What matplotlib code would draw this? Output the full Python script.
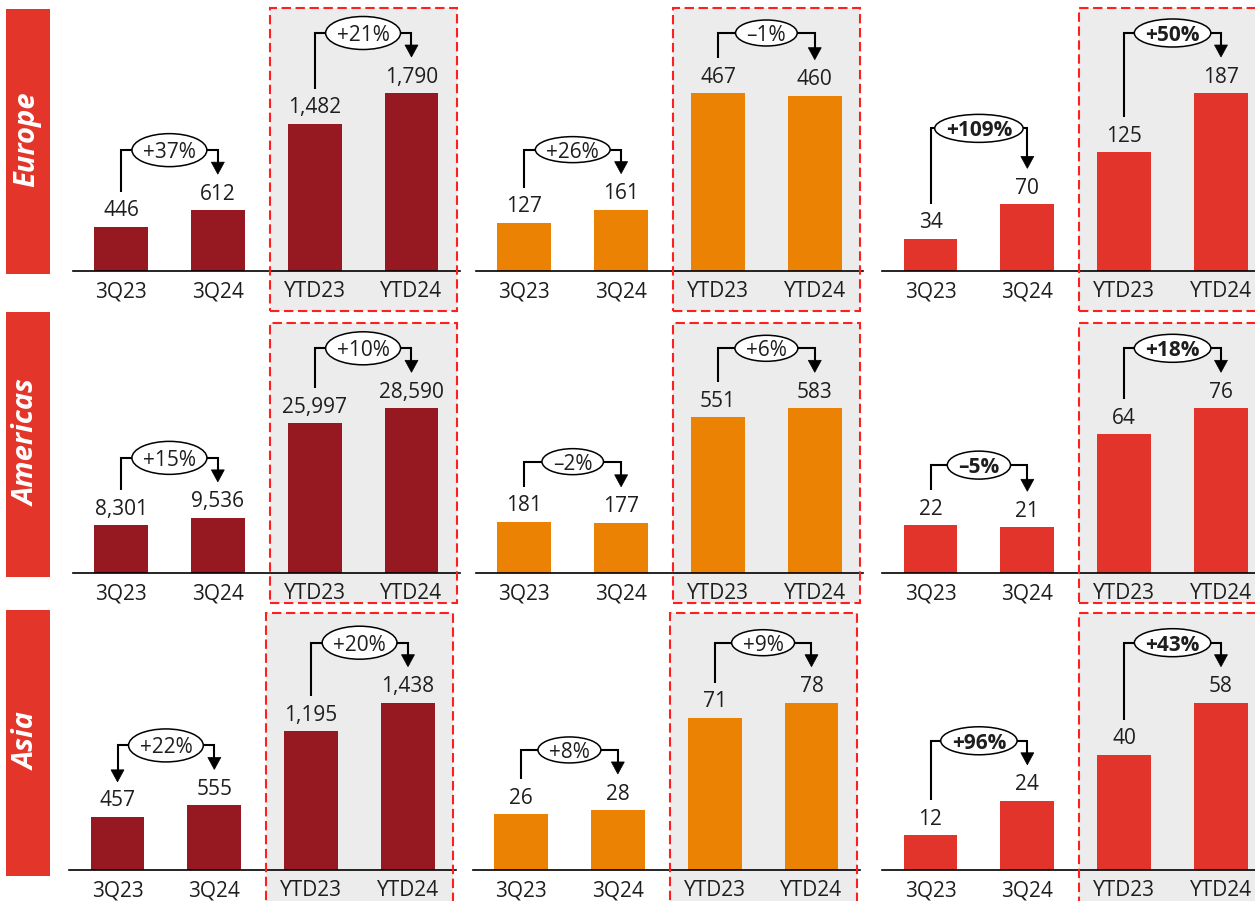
import matplotlib
matplotlib.use("Agg")
import matplotlib.pyplot as plt
import matplotlib.transforms as mtransforms
from matplotlib import font_manager as fm
from matplotlib.patches import Rectangle, Ellipse, Polygon
from matplotlib.lines import Line2D

# ---------------------------------------------------------------- data
regions = ["Europe", "Americas", "Asia"]
periods = ["3Q23", "3Q24", "YTD23", "YTD24"]

# first metric (dark red)
metric1_europe = [446, 612, 1482, 1790]
metric1_americas = [8301, 9536, 25997, 28590]
metric1_asia = [457, 555, 1195, 1438]

# second metric (orange)
metric2_europe = [127, 161, 467, 460]
metric2_americas = [181, 177, 551, 583]
metric2_asia = [26, 28, 71, 78]

# third metric (red)
metric3_europe = [34, 70, 125, 187]
metric3_americas = [22, 21, 64, 76]
metric3_asia = [12, 24, 40, 58]

# year-on-year change labels: (quarter, year-to-date)
change1 = {"Europe": ["+37%", "+21%"], "Americas": ["+15%", "+10%"], "Asia": ["+22%", "+20%"]}
change2 = {"Europe": ["+26%", "\u20131%"], "Americas": ["\u20132%", "+6%"], "Asia": ["+8%", "+9%"]}
change3 = {"Europe": ["+109%", "+50%"], "Americas": ["\u20135%", "+18%"], "Asia": ["+96%", "+43%"]}

values = [
    {"Europe": metric1_europe, "Americas": metric1_americas, "Asia": metric1_asia},
    {"Europe": metric2_europe, "Americas": metric2_americas, "Asia": metric2_asia},
    {"Europe": metric3_europe, "Americas": metric3_americas, "Asia": metric3_asia},
]
changes = [change1, change2, change3]


# ---------------------------------------------------------------- fonts
def _weight(w):
    if isinstance(w, str):
        return fm.weight_dict.get(w, 400)
    return w


def pick_family(candidates, need_italic=False):
    for fam in candidates:
        for f in fm.fontManager.ttflist:
            if f.name != fam:
                continue
            if _weight(f.weight) >= 600 and (not need_italic or f.style in ("italic", "oblique")):
                return fam
    return "DejaVu Sans"


preferred = ["Noto Sans", "Open Sans", "Lato", "Roboto", "Liberation Sans"]
main_family = pick_family(preferred)
strip_family = pick_family([main_family] + preferred, need_italic=True)
plt.rcParams["font.family"] = [main_family, "DejaVu Sans"]

# ---------------------------------------------------------------- style / layout (pixels)
W, H = 1255, 901
bar_colors = ["#961922", "#ec8204", "#e3342b"]
strip_red = "#e4352b"
box_grey = "#ececec"
dash_red = "#ff1f1f"
txt = "#1e1e1e"

UNIT = 96.83                      # px between bar centres
col_first_centre = [121.0, 524.3, 930.5]
row_shift = {"Europe": [0, 0, 0], "Americas": [0, 0, 0], "Asia": [-3.5, -3.3, 0]}
row_geom = {
    #            axes top, baseline, px of tallest bar, strip span, box span
    "Europe":   dict(top=8.0, base=271.0, bar_px=178.0, strip=(9.0, 274.0), box=(8.0, 310.5)),
    "Americas": dict(top=322.7, base=572.7, bar_px=164.4, strip=(311.7, 577.3), box=(322.7, 602.5)),
    "Asia":     dict(top=613.0, base=870.0, bar_px=167.3, strip=(610.0, 875.7), box=(613.0, 910.0)),
}
ellipse_h = [33, 26, 28]
bracket_lift = {("Europe", 2, 0): 16}

FS = 15

fig = plt.figure(figsize=(W / 100, H / 100), dpi=100)
renderer = fig.canvas.get_renderer()


def fy(py):
    return 1 - py / H


def bracket(ax, a, b, va, vb, label, dpp, eh, bold, lift, left_arrow):
    start_a = va + 35 * dpp
    tip_b = vb + 36 * dpp
    level = max(va, vb) + (60 + lift) * dpp
    head_l, head_w = 12 * dpp, 6.5 / UNIT
    xs = [a, a, b, b]
    ys = [start_a if not left_arrow else start_a + head_l * 0.8, level, level, tip_b + head_l * 0.8]
    ax.add_line(Line2D(xs, ys, color="black", lw=1.5, solid_joinstyle="miter",
                       solid_capstyle="butt", zorder=3, clip_on=False))
    tips = [(b, tip_b)]
    if left_arrow:
        tips.append((a, start_a))
    for (x, y) in tips:
        ax.add_patch(Polygon([(x - head_w, y + head_l), (x + head_w, y + head_l), (x, y)],
                             closed=True, facecolor="black", edgecolor="black", lw=0.5,
                             zorder=3, clip_on=False))
    xc = (a + b) / 2
    t = ax.text(xc, level, label, ha="center", va="center_baseline", fontsize=FS,
                fontweight="bold" if bold else "normal", color=txt, zorder=5, clip_on=False)
    tw = t.get_window_extent(renderer=renderer).width
    ax.add_patch(Ellipse((xc, level), (tw + 22) / UNIT, eh * dpp, facecolor="white",
                         edgecolor="black", lw=1.1, zorder=4, clip_on=False))


for r, region in enumerate(regions):
    g = row_geom[region]
    # region strip
    s0, s1 = g["strip"]
    fig.add_artist(Rectangle((6 / W, fy(s1)), 44 / W, (s1 - s0) / H,
                             transform=fig.transFigure, facecolor=strip_red, edgecolor="none"))
    fig.text(27 / W, fy((s0 + s1) / 2 - 2), region, rotation=90, ha="center", va="center",
             color="white", fontsize=21, fontweight="bold", fontstyle="italic",
             family=[strip_family, "DejaVu Sans"])

    for c in range(3):
        vals = values[c][region]
        c0 = col_first_centre[c] + row_shift[region][c]
        left = c0 - 0.5 * UNIT
        hpx = g["base"] - g["top"]
        ax = fig.add_axes([left / W, fy(g["base"]), 4 * UNIT / W, hpx / H])
        ax.patch.set_visible(False)
        ytop = max(vals) * hpx / g["bar_px"]
        dpp = ytop / hpx
        ax.set_xlim(-0.5, 3.5)
        ax.set_ylim(0, ytop)
        for side in ("top", "left", "right"):
            ax.spines[side].set_visible(False)
        ax.spines["bottom"].set_linewidth(1.2)
        ax.spines["bottom"].set_color("black")
        ax.spines["bottom"].set_zorder(6)
        ax.set_yticks([])
        ax.set_xticks(range(4))
        ax.set_xticklabels(periods, fontsize=FS, color=txt)
        ax.tick_params(axis="x", length=0, pad=7.5)

        # year-to-date panel: grey fill with dashed red outline
        b0, b1 = g["box"]
        blend = mtransforms.blended_transform_factory(ax.transData, fig.transFigure)
        ax.add_patch(Rectangle((1.535, fy(b1)), 1.93, (b1 - b0) / H, transform=blend,
                               facecolor=box_grey, edgecolor="none", zorder=0.5, clip_on=False))
        ax.add_patch(Rectangle((1.535, fy(b1)), 1.93, (b1 - b0) / H, transform=blend,
                               fill=False, edgecolor=dash_red, lw=1.5,
                               linestyle=(0, (4.5, 2.2)), zorder=7, clip_on=False))

        ax.bar(range(4), vals, width=0.555, color=bar_colors[c], zorder=2)
        for i, v in enumerate(vals):
            ax.annotate(f"{v:,}", (i, v), xytext=(0, 7.5), textcoords="offset points",
                        ha="center", va="baseline", fontsize=FS, color=txt,
                        zorder=5, annotation_clip=False)

        for k, (a, b) in enumerate([(0, 1), (2, 3)]):
            bracket(ax, a, b, vals[a], vals[b], changes[c][region][k], dpp,
                    ellipse_h[c], c == 2, bracket_lift.get((region, c, k), 0),
                    left_arrow=(region == "Asia" and c == 0 and k == 0))

fig.savefig("out.png", dpi=100)
